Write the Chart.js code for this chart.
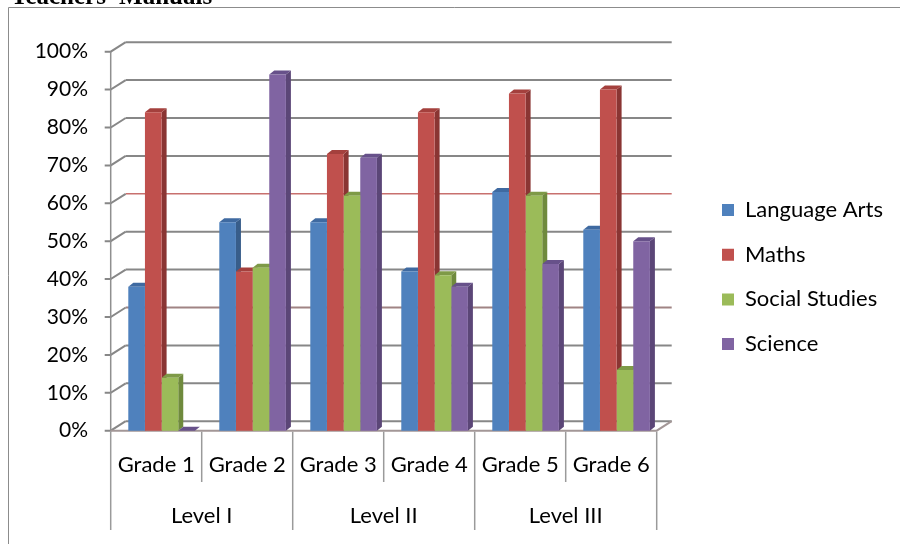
<!DOCTYPE html>
<html><head><meta charset="utf-8">
<script src="https://cdn.jsdelivr.net/npm/chart.js@4.4.1/dist/chart.umd.min.js"></script>
<style>html,body{margin:0;padding:0;background:#fff;overflow:hidden}canvas{display:block}</style>
</head><body>
<canvas id="c" width="900" height="544"></canvas>
<script>
// ---- data ----
const categories = ['Grade 1', 'Grade 2', 'Grade 3', 'Grade 4', 'Grade 5', 'Grade 6'];
const levels = ['Level I', 'Level II', 'Level III'];
const levelSpans = [2, 2, 2];
const seriesNames = ['Language Arts', 'Maths', 'Social Studies', 'Science'];
const languageArts = [38, 55, 55, 42, 63, 53];
const maths = [84, 42, 73, 84, 89, 90];
const socialStudies = [14, 43, 62, 41, 62, 16];
const science = [0, 94, 72, 38, 44, 50];
const yMin = 0, yMax = 100, yStep = 10;
const title = "Teachers' Manuals";

// ---- styles ----
const frontColors = ['#4f81bd', '#c0504d', '#9bbb59', '#8064a2'];
const sideColors = ['#385d8a', '#8a3533', '#6f8a3d', '#5b4677'];
const topColors = ['#3f6aa1', '#a4403d', '#7e9a47', '#67518a'];
const FONT = 'Lato';
const labelFontSize = 22;
const yFontSize = 21;
const legendPad = 44.7 - labelFontSize;
const boxW = 12;

const mctx = document.createElement('canvas').getContext('2d');
mctx.font = labelFontSize + 'px ' + FONT;
const maxTextW = Math.max(...seriesNames.map(s => mctx.measureText(s).width));
const itemW = boxW + labelFontSize / 2 + maxTextW;
const legendItemLeft = 722;
const padRight = Math.max(0, 900 - legendItemLeft - itemW - 10);
const frontRight = 656.7;
const gapW = legendItemLeft - legendPad - frontRight;

const D = {bx: 15, by: -9.5, dx: 5, dy: -4, shift: 5.4};

const excel3d = {
  id: 'excel3d',
  beforeDraw(chart) {
    const ctx = chart.ctx;
    ctx.save();
    ctx.strokeStyle = '#8c8c8c';
    ctx.lineWidth = 1;
    ctx.beginPath();
    ctx.moveTo(8.5, 544); ctx.lineTo(8.5, 7.5); ctx.lineTo(900, 7.5);
    ctx.stroke();
    ctx.fillStyle = '#000';
    ctx.font = 'bold 25px "Liberation Serif"';
    ctx.textBaseline = 'alphabetic';
    ctx.textAlign = 'left';
    ctx.fillText(title, 11, 4);
    ctx.restore();
  },
  beforeDatasetsDraw(chart) {
    const ctx = chart.ctx, ca = chart.chartArea, ys = chart.scales.y;
    ctx.save();
    ctx.lineCap = 'butt';
    ys.ticks.forEach(t => {
      const y = ys.getPixelForValue(t.value);
      ctx.beginPath();
      if (t.value === 60) { ctx.strokeStyle = '#c8706e'; ctx.lineWidth = 1.5; }
      else if (t.value === 30) { ctx.strokeStyle = '#a08484'; ctx.lineWidth = 2; }
      else { ctx.strokeStyle = '#878787'; ctx.lineWidth = 2; }
      ctx.moveTo(ca.left + D.bx, y + D.by);
      ctx.lineTo(ca.right + D.bx, y + D.by);
      ctx.stroke();
      ctx.beginPath();
      ctx.strokeStyle = '#878787'; ctx.lineWidth = 2;
      ctx.moveTo(ca.left - 6, y);
      ctx.lineTo(ca.left, y);
      ctx.lineTo(ca.left + D.bx, y + D.by);
      ctx.stroke();
    });
    ctx.beginPath();
    ctx.strokeStyle = '#8f8f8f'; ctx.lineWidth = 1.5;
    ctx.moveTo(ca.left, ys.getPixelForValue(yMax));
    ctx.lineTo(ca.left, ys.getPixelForValue(yMin));
    ctx.stroke();
    const y0 = ys.getPixelForValue(yMin);
    ctx.beginPath();
    ctx.strokeStyle = '#a39797'; ctx.lineWidth = 2;
    ctx.moveTo(ca.left, y0);
    ctx.lineTo(ca.right, y0);
    ctx.lineTo(ca.right + D.bx, y0 + D.by);
    ctx.stroke();
    ctx.restore();

    ctx.save();
    ctx.translate(D.shift, 0);
    const n = categories.length;
    for (let i = 0; i < n; i++) {
      chart.data.datasets.forEach((ds, d) => {
        const el = chart.getDatasetMeta(d).data[i];
        if (!el) return;
        const p = el.getProps(['x', 'y', 'base', 'width'], true);
        const xl = p.x - p.width / 2, xr = p.x + p.width / 2;
        ctx.fillStyle = sideColors[d];
        ctx.beginPath();
        ctx.moveTo(xr, p.y); ctx.lineTo(xr + D.dx, p.y + D.dy);
        ctx.lineTo(xr + D.dx, p.base + D.dy); ctx.lineTo(xr, p.base);
        ctx.closePath(); ctx.fill();
        ctx.fillStyle = topColors[d];
        ctx.beginPath();
        ctx.moveTo(xl, p.y); ctx.lineTo(xl + D.dx, p.y + D.dy);
        ctx.lineTo(xr + D.dx, p.y + D.dy); ctx.lineTo(xr, p.y);
        ctx.closePath(); ctx.fill();
      });
    }
    ctx.restore();
    ctx.save();
    ctx.translate(D.shift, 0);
  },
  afterDatasetsDraw(chart) {
    chart.ctx.restore();
  },
  afterDraw(chart) {
    const ctx = chart.ctx, ca = chart.chartArea, xs = chart.scales.x;
    const n = categories.length;
    const cw = (ca.right - ca.left) / n;
    const y0 = chart.scales.y.getPixelForValue(yMin);
    const edges = new Set([0]);
    let acc = 0;
    levelSpans.forEach(s => { acc += s; edges.add(acc); });
    ctx.save();
    ctx.strokeStyle = '#9a9a9a'; ctx.lineWidth = 1.5;
    for (let k = 0; k <= n; k++) {
      const x = xs.getPixelForValue(0) - cw / 2 + k * cw;
      ctx.beginPath();
      ctx.moveTo(x, y0 + 1);
      ctx.lineTo(x, edges.has(k) ? 530 : 482);
      ctx.stroke();
    }
    ctx.fillStyle = '#000';
    ctx.font = labelFontSize + 'px ' + FONT;
    ctx.textAlign = 'center'; ctx.textBaseline = 'middle';
    let start = 0;
    levels.forEach((lv, j) => {
      const end = start + levelSpans[j] - 1;
      const xa = xs.getPixelForValue(start) - cw / 2;
      const xb = xs.getPixelForValue(end) + cw / 2;
      ctx.fillText(lv, (xa + xb) / 2, 516);
      start = end + 1;
    });
    ctx.restore();
  }
};

const seriesValues = [languageArts, maths, socialStudies, science];
new Chart(document.getElementById('c'), {
  type: 'bar',
  data: {
    labels: categories,
    datasets: seriesNames.map((name, d) => ({
      label: name,
      data: seriesValues[d],
      backgroundColor: frontColors[d],
      borderWidth: 0,
      categoryPercentage: 0.732,
      barPercentage: 1,
      clip: false
    }))
  },
  options: {
    responsive: false,
    animation: false,
    devicePixelRatio: 1,
    layout: {padding: {left: 0, top: 51.7, bottom: 41.6, right: padRight}},
    plugins: {
      tooltip: {enabled: false},
      legend: {
        position: 'right',
        align: 'center',
        maxWidth: 400,
        labels: {
          boxWidth: boxW, boxHeight: boxW, padding: legendPad,
          color: '#000', font: {family: FONT, size: labelFontSize}
        }
      }
    },
    scales: {
      x: {
        grid: {display: false, drawTicks: false},
        border: {display: false},
        ticks: {color: '#000', font: {family: FONT, size: labelFontSize}, padding: 21, maxRotation: 0, autoSkip: false},
        afterFit(s) { s.height = 71.7; }
      },
      y: {
        min: yMin, max: yMax,
        grid: {display: false, drawTicks: false},
        border: {display: false},
        ticks: {stepSize: yStep, color: '#000', padding: 22.7, font: {family: FONT, size: yFontSize}, callback: v => v + '%'},
        afterFit(s) { s.width = 110.7; }
      },
      y2: {
        type: 'linear', position: 'right', display: true,
        grid: {display: false, drawTicks: false},
        border: {display: false},
        ticks: {display: false},
        afterFit(s) { s.width = gapW; }
      }
    }
  },
  plugins: [excel3d]
});
</script>
</body></html>
